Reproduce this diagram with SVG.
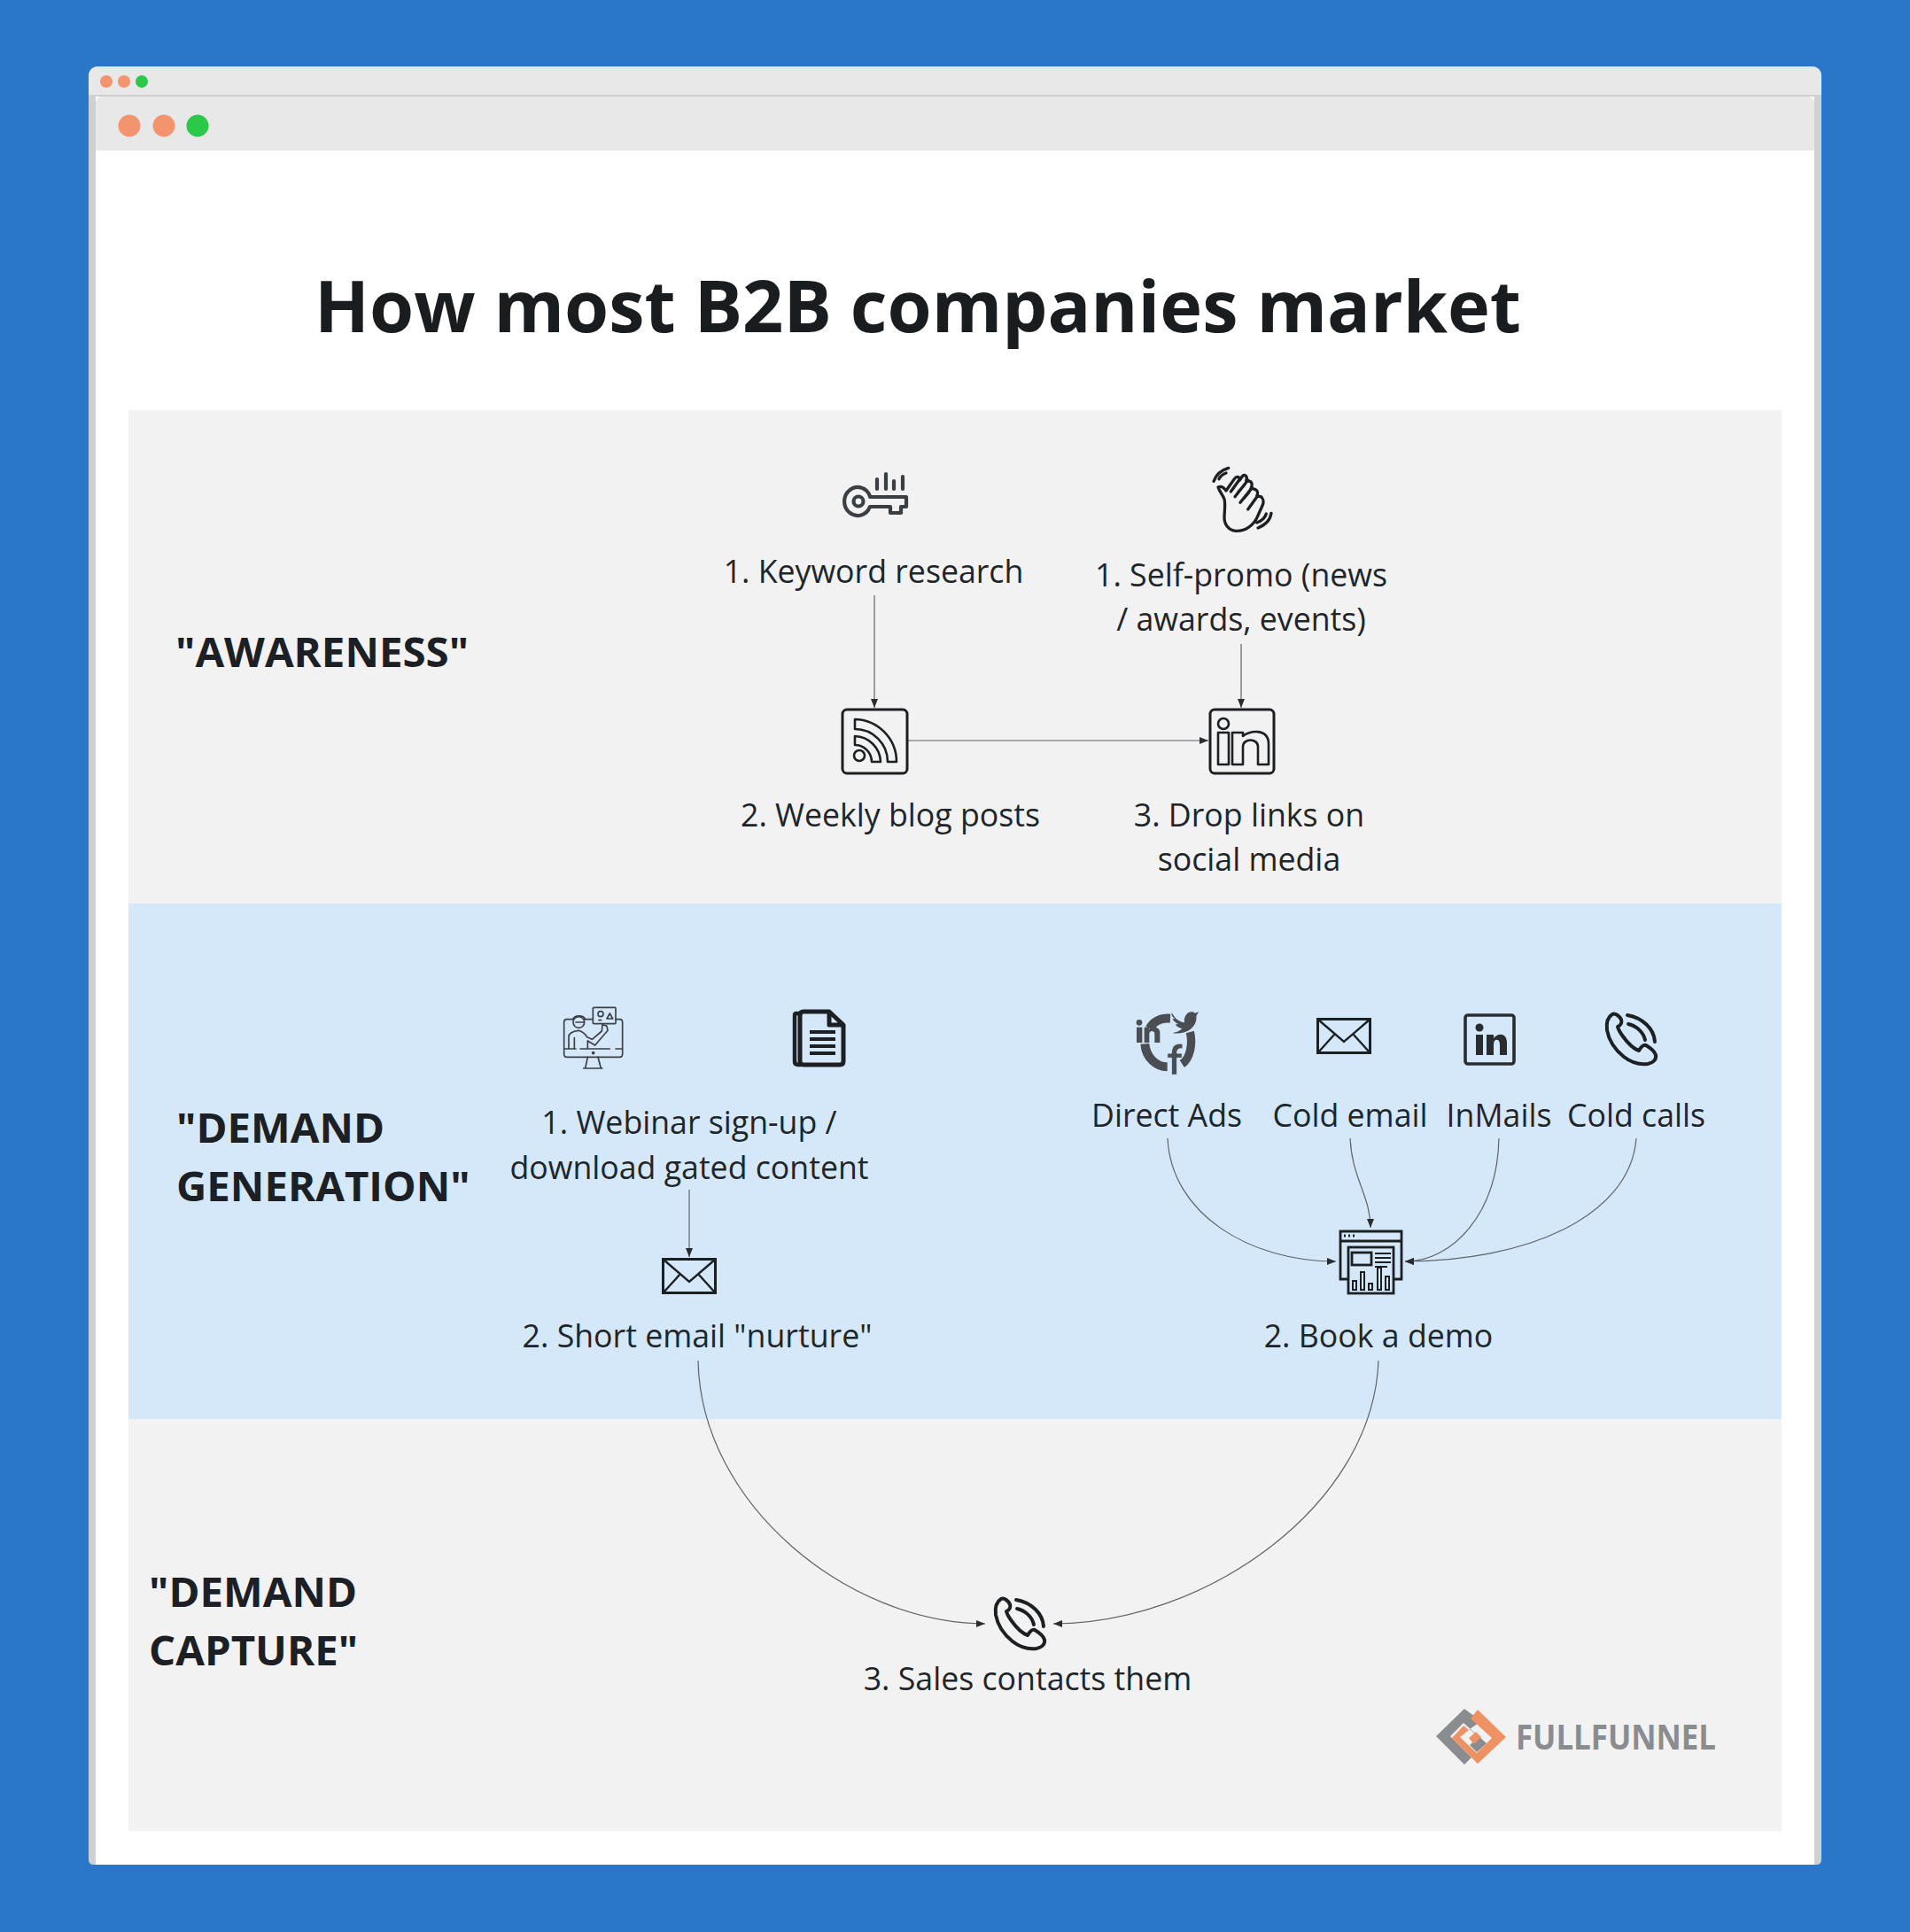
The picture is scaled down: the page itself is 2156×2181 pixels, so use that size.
<svg xmlns="http://www.w3.org/2000/svg" width="2156" height="2181" viewBox="0 0 2156 2181">
<style>
.t{font-family:"Open Sans","Noto Sans",sans-serif;font-size:35.7px;fill:#20252a;text-anchor:middle}
.h{font-family:"Open Sans","Noto Sans",sans-serif;font-size:47.4px;font-weight:700;fill:#1c2024}
.c{fill:none;stroke:#5f6367;stroke-width:1.2}
.ic{fill:none;stroke:#1d2023;stroke-width:3;stroke-linejoin:round;stroke-linecap:round}
</style>
<defs>
<marker id="ah" markerUnits="userSpaceOnUse" markerWidth="12" markerHeight="10" refX="10" refY="4.5" orient="auto"><path d="M0,0.5 L10,4.5 L0,8.5 Z" fill="#2a2d30"/></marker>
<g id="env"><rect x="1.5" y="1.5" width="59" height="38" fill="none" stroke="#1d2023" stroke-width="3"/><path d="M2,2 L31,27 L60,2 M2,39 L21,18 M60,39 L41,18" fill="none" stroke="#1d2023" stroke-width="2.4"/></g>
<g id="phone" fill="none" stroke="#1d2023" stroke-width="4" stroke-linecap="round" stroke-linejoin="round"><path d="M8,2 C3,5 1,12 2,20 C4,31 11,42 21,50 C30,57 40,59 48,58 C54,57 58,53 57,48 C56,44 51,40 46,37 C43,36 41,38 38,43 C32,41 25,34 20,27 C17,23 15,20 14,16 C18,14 19,11 18,8 C16,4 11,0 8,2 Z"/><path d="M25,3 C42,6 55,18 56,33"/><path d="M26,13 C35,15 43,22 45,31"/></g>
</defs>
<rect width="2156" height="2181" fill="#2a77c9"/>
<g id="window">
<path d="M100,2099 V87 Q100,75 112,75 H2044 Q2056,75 2056,87 V2099 Q2056,2105 2050,2105 H106 Q100,2105 100,2099 Z" fill="#d0d0d0"/>
<path d="M100,107 V87 Q100,75 112,75 H2044 Q2056,75 2056,87 V107 Z" fill="#e8e8e8"/>
<rect x="108" y="109" width="1940" height="1996" fill="#fff"/>
<path d="M108,170 V117 Q108,109 116,109 H2040 Q2048,109 2048,117 V170 Z" fill="#e8e8e8"/>
<circle cx="120" cy="92" r="7" fill="#f2956e"/><circle cx="140" cy="92" r="7" fill="#f2956e"/><circle cx="160" cy="92" r="7" fill="#2cc84a"/>
<circle cx="146" cy="142" r="12.5" fill="#f2956e"/><circle cx="185" cy="142" r="12.5" fill="#f2956e"/><circle cx="223" cy="142" r="12.5" fill="#2cc84a"/>
</g>
<g id="title"><text x="1036" y="375" text-anchor="middle" font-family="'Open Sans','Noto Sans',sans-serif" font-size="81" font-weight="700" fill="#1a1d20">How most B2B companies market</text></g>
<g id="bands">
<rect x="145" y="463" width="1866" height="557" fill="#f2f2f2"/>
<rect x="145" y="1020" width="1866" height="582" fill="#d4e8fa"/>
<rect x="145" y="1602" width="1866" height="465" fill="#f2f2f2"/>
</g>
<g id="stage-labels">
<text class="h" x="198" y="753">"AWARENESS"</text>
<text class="h" x="199" y="1290">"DEMAND</text>
<text class="h" x="199" y="1356">GENERATION"</text>
<text class="h" x="168" y="1814">"DEMAND</text>
<text class="h" x="168" y="1880">CAPTURE"</text>
</g>
<g id="connectors">
<path class="c" marker-end="url(#ah)" d="M987,672 V799"/>
<path class="c" marker-end="url(#ah)" d="M1401,727 V799"/>
<path class="c" marker-end="url(#ah)" d="M1025,836 H1364"/>
<path class="c" marker-end="url(#ah)" d="M778,1343 V1419"/>
<path class="c" marker-end="url(#ah)" d="M1318,1285 C1322,1370 1410,1424 1508,1424"/>
<path class="c" marker-end="url(#ah)" d="M1524,1285 C1526,1330 1547,1350 1547,1386"/>
<path class="c" marker-end="url(#ah)" d="M1692,1285 C1690,1370 1640,1424 1586,1424"/>
<path class="c" marker-end="url(#ah)" d="M1847,1285 C1840,1375 1720,1424 1586,1424"/>
<path class="c" marker-end="url(#ah)" d="M788,1536 C791,1700 960,1833 1112,1833"/>
<path class="c" marker-end="url(#ah)" d="M1556,1536 C1550,1700 1360,1833 1189,1833"/>
</g>
<g id="node-keyword">
<g fill="none" stroke="#3a3f44" stroke-width="4.2" stroke-linecap="round" stroke-linejoin="round">
<path d="M982,560 A15,16 0 1 0 982,572 H1005 V579 H1017 V572 H1023 V561 H982 Z"/><circle cx="969" cy="566" r="5.5"/>
<path d="M990,541 V552 M1000,535 V552 M1009,543 V552 M1019,538 V552"/></g>
<text class="t" x="986" y="658">1. Keyword research</text>
</g>
<g id="node-selfpromo">
<g transform="translate(1360,520) scale(.3333)" fill="none" stroke="#1d2023" stroke-width="10" stroke-linecap="round" stroke-linejoin="round">
<path d="M30,70 C38,48 55,32 80,25 M48,62 C52,54 60,46 72,42"/>
<path d="M45,90 C55,85 65,92 72,102 L100,62 C108,50 118,55 118,66 L128,52 C136,44 146,55 140,68 L152,70 C160,72 162,85 156,93 L172,98 C180,102 180,112 176,120 L190,122 C198,128 200,140 196,150 L178,190 C165,220 135,240 105,238 C80,236 65,215 66,190 C67,165 70,145 66,130 C60,115 50,105 45,90 Z"/>
<path d="M88,105 L122,58 M102,122 L146,66 M120,142 L160,92 M146,165 L180,118 M112,108 L134,82 M132,128 L150,106"/>
<path d="M180,228 C205,218 222,200 225,178 M176,210 C192,204 204,194 208,180"/>
</g>
<text class="t" x="1401" y="662">1. Self-promo (news</text>
<text class="t" x="1401" y="712">/ awards, events)</text>
</g>
<g id="node-blog">
<rect class="ic" x="951" y="801" width="73" height="72" rx="5"/>
<g fill="none" stroke="#1d2023" stroke-width="2.6" stroke-linejoin="round">
<path d="M965,812 A48,48 0 0 1 1012,860 H1002 A37,37 0 0 0 965,823 Z"/>
<path d="M965,831 A30,30 0 0 1 994,860 H984 A19,19 0 0 0 965,841 Z"/>
<circle cx="970" cy="853" r="6"/></g>
<text class="t" x="1005" y="933">2. Weekly blog posts</text>
</g>
<g id="node-social">
<rect class="ic" x="1366" y="801" width="72" height="72" rx="5"/>
<g fill="none" stroke="#1d2023" stroke-width="2.6" stroke-linejoin="round">
<circle cx="1381" cy="817" r="6"/><rect x="1375" y="827" width="12" height="36"/>
<path d="M1391,827 H1403 V831 C1409,825 1432,821 1432,840 V863 H1420 V843 C1420,833 1403,833 1403,843 V863 H1391 Z"/></g>
<text class="t" x="1410" y="933">3. Drop links on</text>
<text class="t" x="1410" y="983">social media</text>
</g>
<g id="node-webinar">
<g transform="translate(630,1130) scale(.3333)" fill="none" stroke="#3c4044" stroke-width="5" stroke-linejoin="round" stroke-linecap="round">
<path d="M118,62 H30 Q20,62 20,72 V180 Q20,190 30,190 H208 Q218,190 218,180 V72 Q218,62 208,62 H195"/>
<path d="M20,162 H60 M75,162 H175 M195,162 H218"/>
<circle cx="119" cy="176" r="3"/>
<path d="M100,190 L92,228 M135,190 L145,228 M86,228 H150"/>
<rect x="118" y="22" width="77" height="55" rx="3" fill="#d4e8fa"/>
<circle cx="144" cy="44" r="9"/><path d="M165,60 L175,42 L185,60 Z M138,65 H146"/>
<circle cx="70" cy="72" r="19" fill="#d4e8fa"/><path d="M50,62 C55,48 85,45 92,62 M60,72 H88"/>
<path d="M36,160 V122 C36,108 50,102 70,100 C82,104 92,112 98,122 L115,130 L148,102 L150,80 L165,85 L168,100 L125,150 L100,135 V160 M55,125 V160"/>
</g>
</g>
<g id="node-document">
<path d="M902,1144 H899 Q897,1144 897,1146 V1198 Q897,1202 901,1202 H904" fill="none" stroke="#1d2023" stroke-width="4.5"/>
<path d="M907,1142 H936 L952,1157 V1198 Q952,1202 948,1202 H907 Q903,1202 903,1198 V1146 Q903,1142 907,1142 Z M936,1143 V1157 H951" fill="none" stroke="#1d2023" stroke-width="5" stroke-linejoin="round"/>
<path d="M914,1165 H943 M914,1173 H943 M914,1181 H943 M914,1189 H943" stroke="#1d2023" stroke-width="4"/>
<text class="t" x="778" y="1280">1. Webinar sign-up /</text>
<text class="t" x="778" y="1331">download gated content</text>
</g>
<g id="node-nurture">
<use href="#env" x="747" y="1420"/>
<text class="t" x="787" y="1521">2. Short email "nurture"</text>
</g>
<g id="node-direct-ads">
<g transform="translate(1275,1135) scale(.3333)" fill="#4a4e52">
<path d="M138,44 C105,42 80,55 68,78" fill="none" stroke="#4a4e52" stroke-width="30"/>
<path d="M52,130 C55,175 90,208 128,208" fill="none" stroke="#4a4e52" stroke-width="30"/>
<path d="M205,90 C215,130 205,180 178,198" fill="none" stroke="#4a4e52" stroke-width="28"/>
<circle cx="33" cy="58" r="10"/><rect x="24" y="74" width="19" height="52"/>
<path d="M50,74 H67 V82 C75,70 103,70 103,92 V126 H85 V96 C85,84 67,84 67,96 V126 H50 Z"/>
<path d="M142,235 V178 H128 V162 H142 C142,138 155,126 180,130 V147 C165,145 161,150 161,162 H178 V178 H161 V235 Z" stroke="#d4e8fa" stroke-width="3"/>
<path d="M143,24 C155,48 172,56 186,58 C182,34 202,12 222,26 L234,22 L226,36 C230,62 208,100 146,94 C165,88 172,85 178,78 C165,76 160,72 156,64 L166,63 C152,56 147,50 146,44 L155,46 C145,40 141,34 143,24 Z"/>
</g>
<text class="t" x="1317" y="1272">Direct Ads</text>
</g>
<g id="node-cold-email">
<use href="#env" x="1486" y="1149"/>
<text class="t" x="1524" y="1272">Cold email</text>
</g>
<g id="node-inmails">
<rect x="1654" y="1146" width="55" height="55" rx="3" fill="none" stroke="#2a2d30" stroke-width="3.6"/>
<circle cx="1670" cy="1160" r="4.5" fill="#2a2d30"/><rect x="1666" y="1168" width="8" height="23" fill="#2a2d30"/>
<path d="M1678,1168 H1686 V1172 C1690,1166 1701,1165 1701,1177 V1191 H1693 V1179 C1693,1172 1686,1172 1686,1179 V1191 H1678 Z" fill="#2a2d30"/>
<text class="t" x="1692" y="1272">InMails</text>
</g>
<g id="node-cold-calls">
<use href="#phone" x="1812" y="1143"/>
<text class="t" x="1847" y="1272">Cold calls</text>
</g>
<g id="node-demo">
<g fill="none" stroke="#1d2023" stroke-width="2.8">
<path d="M1522,1444 H1513 V1390 H1582 V1444 H1573"/>
<path d="M1513,1401 H1582 M1517,1395 H1519 M1522,1395 H1524 M1527,1395 H1529"/>
<rect x="1522" y="1408" width="51" height="52"/>
<rect x="1526" y="1414" width="22" height="14"/>
<path d="M1552,1415 H1570 M1552,1420 H1570 M1552,1425 H1570 M1552,1430 H1566" stroke-width="2"/>
<path d="M1527,1456 V1446 H1531 V1456 Z M1536,1456 V1436 H1540 V1456 Z M1545,1456 V1449 H1549 V1456 Z M1555,1456 V1431 H1559 V1456 Z M1564,1456 V1441 H1568 V1456 Z" stroke-width="2"/>
</g>
<text class="t" x="1556" y="1521">2. Book a demo</text>
</g>
<g id="node-sales">
<use href="#phone" x="1122" y="1803"/>
<text class="t" x="1160" y="1908">3. Sales contacts them</text>
</g>
<g id="logo">
<path d="M1653,1929 L1621,1960 L1653,1992 L1661,1984 L1637,1960 L1652,1945 L1678,1968 L1667,1978 L1659,1970 L1669,1961 L1659,1952 L1672,1943 Z" fill="#8a8d90"/>
<path d="M1668,1930 L1700,1961 L1668,1991 L1639,1962 L1652,1948 L1658,1953 L1648,1961 L1667,1979 L1684,1962 L1660,1940 Z" fill="#ef9263"/>
<path d="M1658,1962 L1666,1955 L1672,1961 L1664,1969 Z" fill="#ef9263"/>
<text x="1711" y="1975" font-family="'Open Sans','Noto Sans',sans-serif" font-size="39" font-weight="700" fill="#8a8d90" textLength="226" lengthAdjust="spacingAndGlyphs">FULLFUNNEL</text>
</g>
</svg>
